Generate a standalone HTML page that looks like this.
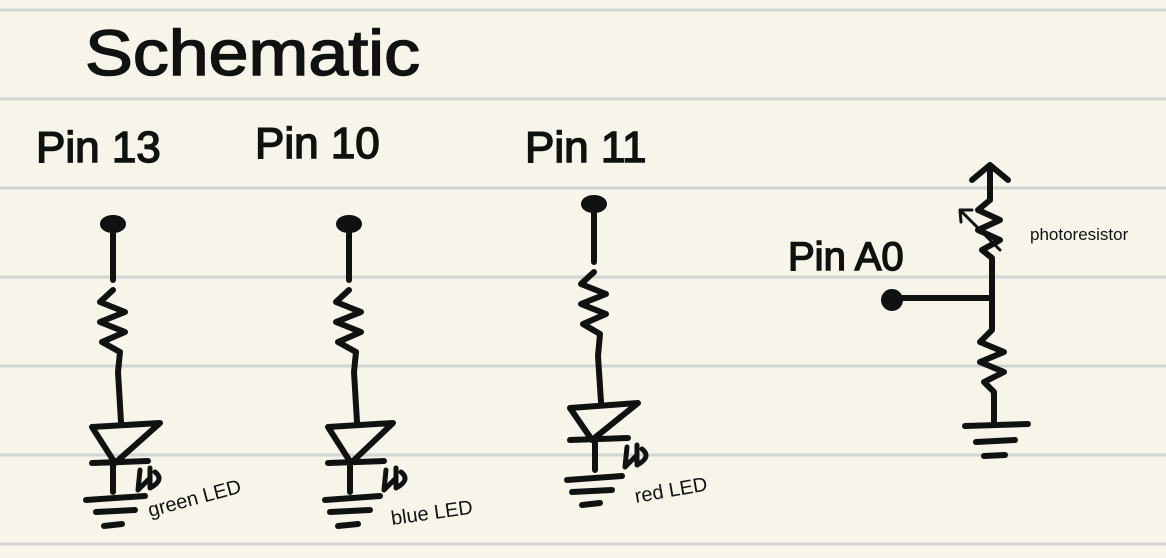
<!DOCTYPE html>
<html><head><meta charset="utf-8"><style>
html,body{margin:0;padding:0;background:#f7f5ea;}
svg{display:block}
text{font-family:"Liberation Sans",sans-serif;fill:#111;}
.hw{stroke:#111;stroke-width:1.5;}
</style></head><body>
<svg width="1166" height="558" viewBox="0 0 1166 558">
<rect width="1166" height="558" fill="#f7f5ea"/>
<g stroke="#d3d4d2" stroke-width="3">
<line x1="0" y1="10" x2="1166" y2="10"/><line x1="0" y1="99" x2="1166" y2="99"/>
<line x1="0" y1="188" x2="1166" y2="188"/><line x1="0" y1="277" x2="1166" y2="277"/>
<line x1="0" y1="366" x2="1166" y2="366"/><line x1="0" y1="455" x2="1166" y2="455"/>
<line x1="0" y1="544" x2="1166" y2="544"/>
</g>
<text class="hw" x="85" y="75" font-size="64" textLength="335" lengthAdjust="spacingAndGlyphs">Schematic</text>
<text class="hw" x="36" y="162" font-size="44">Pin 13</text>
<text class="hw" x="255" y="158" font-size="44">Pin 10</text>
<text class="hw" x="525" y="162" font-size="44">Pin 11</text>
<text class="hw" x="788" y="270" font-size="40">Pin A0</text>
<g fill="none" stroke="#111" stroke-width="6" stroke-linecap="round" stroke-linejoin="round">
<g>
<ellipse cx="113" cy="224" rx="10" ry="6" fill="#111"/>
<path d="M113 228 V280 M113 290 L100 302 L125 312 L100 322 L125 332 L102 342 L120 352 L118 372 L121 422"/>
<path d="M92 427 L160 423 L115 463 Z"/>
<path d="M92 463 L148 461 M113 465 V492 M86 500 L145 496 M96 512 L135 510 M104 526 L122 524"/>
<path d="M140 470 L138 490 L150 478 M150 468 L150 488 Q165 480 155 472" stroke-width="5"/>
</g>
<g>
<ellipse cx="349" cy="224" rx="10" ry="6" fill="#111"/>
<path d="M349 228 V280 M349 290 L336 302 L361 312 L336 322 L361 332 L338 342 L356 352 L354 372 L357 422"/>
<path d="M328 427 L393 423 L351 463 Z"/>
<path d="M328 463 L384 461 M350 465 V492 M325 500 L380 496 M330 512 L370 510 M338 526 L358 524"/>
<path d="M386 470 L384 490 L396 478 M396 468 L396 488 Q411 480 401 472" stroke-width="5"/>
</g>
<g>
<ellipse cx="594" cy="204" rx="10" ry="6" fill="#111"/>
<path d="M594 208 V262 M594 272 L581 284 L606 294 L581 304 L606 314 L583 324 L600 334 L598 356 L601 402"/>
<path d="M570 408 L638 403 L592 440 Z"/>
<path d="M570 440 L628 438 M595 442 V470 M567 480 L622 476 M572 492 L612 490 M582 505 L600 503"/>
<path d="M627 447 L625 467 L637 455 M637 445 L637 465 Q652 457 642 449" stroke-width="5"/>
</g>
<g>
<path d="M972 180 L990 165 L1008 180 M990 166 V200 L978 210 L1000 220 L978 230 L1000 240 L982 250 L992 258 V298 H892"/>
<circle cx="892" cy="300" r="8" fill="#111"/>
<path d="M992 298 V330 L980 342 L1004 352 L980 362 L1004 372 L984 382 L994 392 V422"/>
<path d="M965 426 L1028 424 M976 442 L1015 440 M984 456 L1005 455"/>
<path d="M1000 250 L960 210 M960 210 L972 210 M960 210 L961 222" stroke-width="3"/>
</g>
</g>
<g font-size="20">
<text transform="translate(150,517) rotate(-15)">green LED</text>
<text transform="translate(392,525) rotate(-8)">blue LED</text>
<text transform="translate(636,503) rotate(-10)">red LED</text>
<text x="1030" y="240" font-size="17">photoresistor</text>
</g>
</svg>
</body></html>
